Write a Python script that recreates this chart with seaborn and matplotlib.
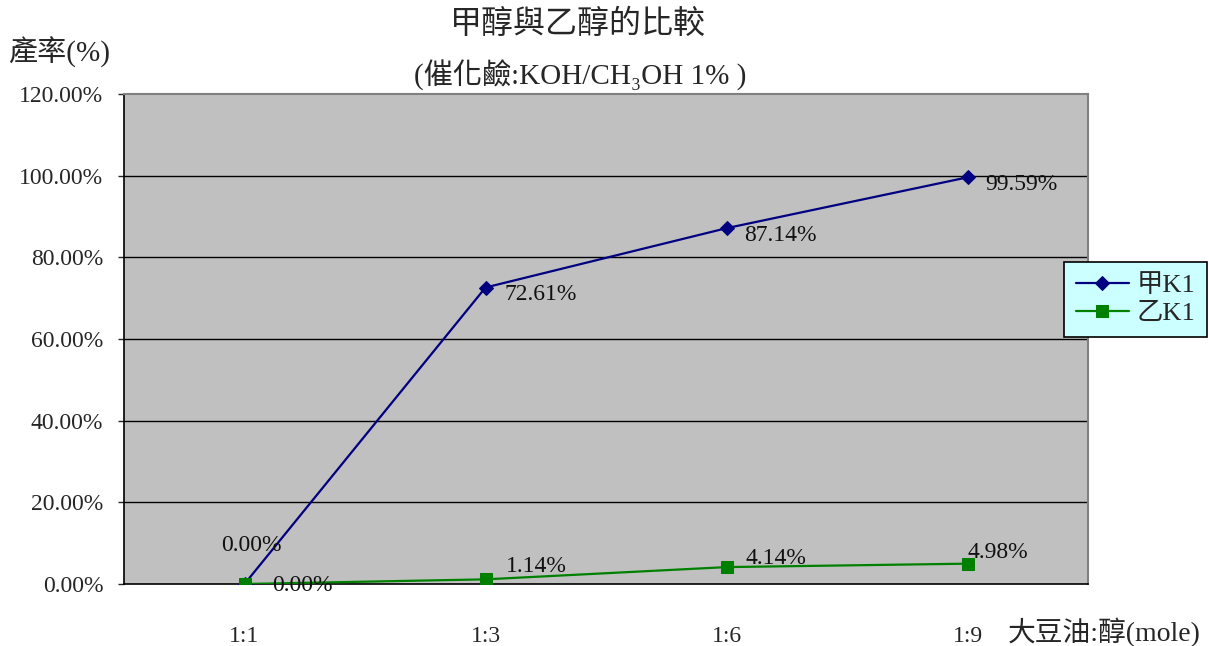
import matplotlib
matplotlib.use("Agg")
import matplotlib.pyplot as plt
import seaborn as sns
import pandas as pd
from matplotlib.ticker import FixedLocator, PercentFormatter

categories = ["1:1", "1:3", "1:6", "1:9"]
methanol = [0.00, 72.61, 87.14, 99.59]
ethanol = [0.00, 1.14, 4.14, 4.98]
series_names = ["甲K1", "乙K1"]
yticks = [0, 20, 40, 60, 80, 100, 120]

sns.set_style("white")
plt.rcParams["font.family"] = ["Liberation Serif", "Noto Sans CJK TC", "DejaVu Serif"]

fig = plt.figure(figsize=(12.09, 6.46), dpi=100)
ax = fig.add_axes([124/1209, 62/646, (1088-124)/1209, (584-94)/646])
ax.set_facecolor("#C0C0C0")

df = pd.DataFrame({"x": list(range(len(categories))) * 2,
                   "y": methanol + ethanol,
                   "s": [series_names[0]] * 4 + [series_names[1]] * 4})

for y in yticks[1:-1]:
    ax.axhline(y, color="black", lw=1, zorder=1)

sns.lineplot(data=df[df.s == series_names[0]], x="x", y="y", color="#000080",
             marker="D", markersize=7, lw=1.6, markeredgecolor="#000080",
             ax=ax, label=series_names[0], zorder=3)
sns.lineplot(data=df[df.s == series_names[1]], x="x", y="y", color="#008000",
             marker="s", markersize=8.5, lw=1.6, markeredgecolor="#008000",
             ax=ax, label=series_names[1], zorder=4)

ax.set_xlim(-0.5, 3.5)
ax.set_ylim(0, 120)
ax.set_xticks(range(len(categories)))
ax.set_xticklabels(categories, fontsize=17)
ax.xaxis.set_minor_locator(FixedLocator([-0.5, 0.5, 1.5, 2.5, 3.5]))
ax.tick_params(axis="x", which="major", length=0, pad=30)
ax.tick_params(axis="x", which="minor", length=7, direction="in", width=1, color="black")
ax.set_yticks(yticks)
ax.yaxis.set_major_formatter(PercentFormatter(decimals=2))
ax.tick_params(axis="y", which="major", length=4, direction="out", width=1, pad=11, labelsize=17, left=True)
ax.set_xlabel("")
ax.set_ylabel("")

for side in ["left", "bottom"]:
    ax.spines[side].set_color("black")
    ax.spines[side].set_linewidth(1.2)
for side in ["top", "right"]:
    ax.spines[side].set_color("#808080")
    ax.spines[side].set_linewidth(1.5)

# data labels
m_offsets = [(-17, 28), (14, -5), (13, -5), (13, -5)]
for i, v in enumerate(methanol):
    ax.annotate(f"{v:.2f}%", (i, v), xytext=m_offsets[i], textcoords="offset points",
                fontsize=17, va="center", ha="left", color="#111111", zorder=5)
e_offsets = [(20, -1), (15, 9), (14, 6.5), (0, 8)]
for i, v in enumerate(ethanol):
    ax.annotate(f"{v:.2f}%", (i, v), xytext=e_offsets[i], textcoords="offset points",
                fontsize=17, va="center", ha="left", color="#111111", zorder=5)

leg = ax.legend(loc="upper left", bbox_to_anchor=(1064/1209, 1 - 262/646),
                bbox_transform=fig.transFigure, fontsize=19, frameon=True,
                fancybox=False, borderpad=0.45, labelspacing=0.15, handlelength=2.0,
                handletextpad=0.3, borderaxespad=0)
leg.get_frame().set_facecolor("#CCFFFF")
leg.get_frame().set_edgecolor("black")
leg.get_frame().set_linewidth(1.2)
leg.get_frame().set_alpha(1)

fig.text(578/1209, 1 - 25/646, "甲醇與乙醇的比較", ha="center", va="center", fontsize=23)
fig.text(580/1209, 1 - 75/646, "(催化鹼:KOH/CH₃OH 1% )", ha="center", va="center", fontsize=21)
fig.text(8/1209, 1 - 52/646, "產率(%)", ha="left", va="center", fontsize=21)
fig.text(1008/1209, 1 - 632/646, "大豆油:醇(mole)", ha="left", va="center", fontsize=20)

fig.savefig("out.png", dpi=100)
